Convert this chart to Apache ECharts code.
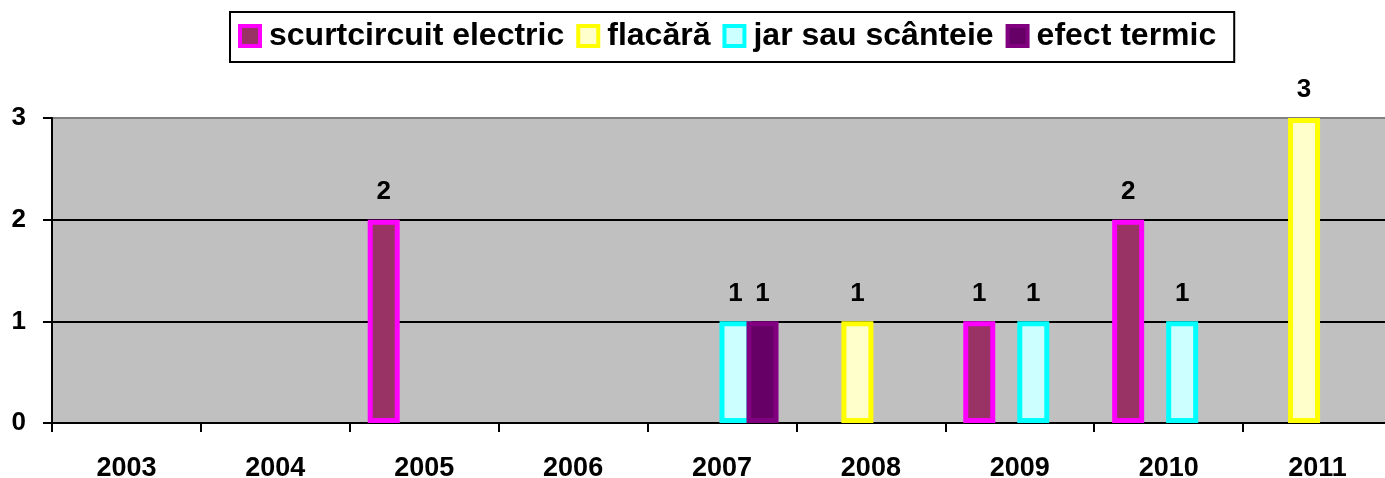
<!DOCTYPE html>
<html>
<head>
<meta charset="utf-8">
<script src="https://cdn.jsdelivr.net/npm/echarts@6/dist/echarts.min.js"></script>
<style>
html,body{margin:0;padding:0;background:#ffffff;}
#chart{width:1385px;height:478px;}
</style>
</head>
<body>
<div id="chart"></div>
<script>
const categories = ['2003', '2004', '2005', '2006', '2007', '2008', '2009', '2010', '2011'];
const seriesNames = ['scurtcircuit electric', 'flacără', 'jar sau scânteie', 'efect termic'];
const scurtcircuit = [null, null, 2, null, null, null, 1, 2, null];
const flacara = [null, null, null, null, null, 1, null, null, 3];
const jar = [null, null, null, null, 1, null, 1, 1, null];
const efect = [null, null, null, null, 1, null, null, null, null];
const yTicks = [0, 1, 2, 3];

const FONT = '"Liberation Sans", Arial, sans-serif';
const fills = ['#993366', '#FFFFCC', '#CCFFFF', '#660066'];
const borders = ['#FF00FF', '#FFFF00', '#00FFFF', '#800080'];
const values = [scurtcircuit, flacara, jar, efect];

const chart = echarts.init(document.getElementById('chart'), null, {renderer: 'canvas'});

const series = values.map((vals, i) => ({
  name: seriesNames[i],
  type: 'bar',
  data: vals,
  clip: false,
  barWidth: 32,
  barGap: '-15.6%',
  itemStyle: {color: fills[i], borderColor: borders[i], borderWidth: 5},
  label: {
    show: true,
    position: 'top',
    distance: 15,
    color: '#000',
    fontFamily: FONT,
    fontWeight: 'bold',
    fontSize: 26
  }
}));

chart.setOption({
  animation: false,
  backgroundColor: '#ffffff',
  legend: {
    data: seriesNames,
    left: 230,
    top: 12,
    orient: 'horizontal',
    icon: 'rect',
    itemWidth: 20,
    itemHeight: 20,
    itemGap: 12,
    padding: [8, 18, 10, 8],
    borderColor: '#000',
    borderWidth: 2,
    backgroundColor: '#fff',
    itemStyle: {borderWidth: 4},
    textStyle: {
      fontFamily: FONT,
      fontWeight: 'bold',
      fontSize: 32,
      lineHeight: 32,
      color: '#000',
      padding: [0, 0, 0, 4]
    }
  },
  grid: {
    left: 52,
    right: -7,
    top: 118,
    bottom: 55,
    outerBoundsMode: 'none',
    containLabel: false,
    show: true,
    backgroundColor: '#C0C0C0',
    borderColor: '#808080',
    borderWidth: 2
  },
  xAxis: {
    type: 'category',
    data: categories,
    boundaryGap: true,
    axisLine: {show: true, lineStyle: {color: '#000', width: 2}},
    axisTick: {show: true, inside: false, length: 9, lineStyle: {color: '#000', width: 2}},
    axisLabel: {
      margin: 32,
      color: '#000',
      fontFamily: FONT,
      fontWeight: 'bold',
      fontSize: 27
    },
    splitLine: {show: false}
  },
  yAxis: {
    type: 'value',
    min: yTicks[0],
    max: yTicks[yTicks.length - 1],
    interval: 1,
    axisLine: {show: true, lineStyle: {color: '#000', width: 2}},
    axisTick: {show: true, inside: false, length: 9, lineStyle: {color: '#000', width: 2}},
    axisLabel: {
      margin: 26,
      color: '#000',
      fontFamily: FONT,
      fontWeight: 'bold',
      fontSize: 26
    },
    splitLine: {show: true, showMinLine: false, showMaxLine: false, lineStyle: {color: '#000', width: 2}}
  },
  series: series
});
</script>
</body>
</html>
